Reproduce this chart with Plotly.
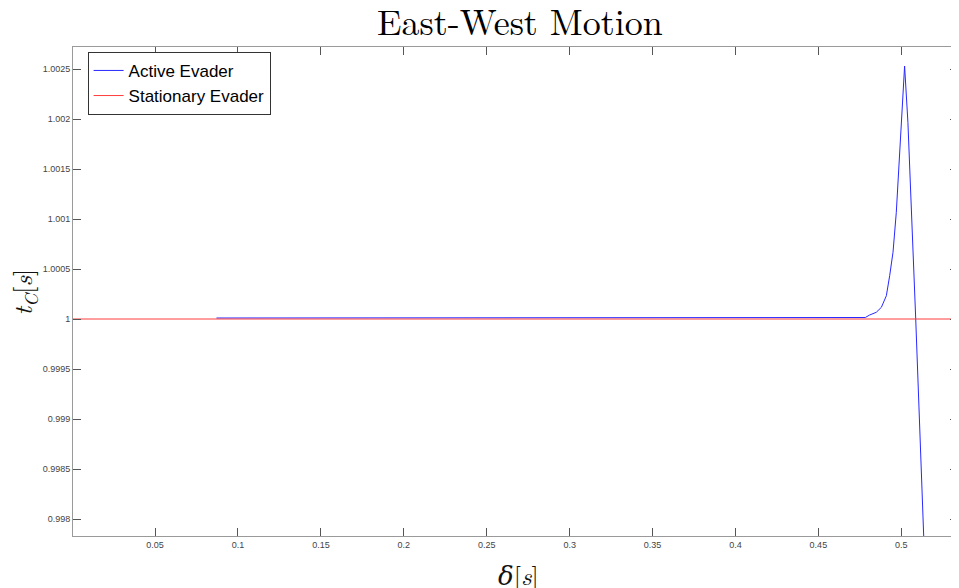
import plotly.graph_objects as go

# Active evader: delta [s] and capture time t_C [s]
active_delta = [0.087, 0.15, 0.25, 0.35, 0.45, 0.4783, 0.4809, 0.4849, 0.4880, 0.4910,
                0.4930, 0.4950, 0.4970, 0.4990, 0.5010, 0.5020, 0.5040, 0.5061,
                0.5087, 0.5135, 0.5150]
active_tc = [1.00001, 1.00001, 1.00001, 1.00001, 1.00001, 1.000015, 1.00004, 1.000067,
             1.000117, 1.000233, 1.000433, 1.000667, 1.001067, 1.001633, 1.0023,
             1.00253, 1.001967, 1.001133, 1.0, 0.99784, 0.9971]

# Stationary evader
stationary_delta = [0.0, 0.1, 0.2, 0.3, 0.4, 0.5, 0.535]
stationary_tc = [1.0, 1.0, 1.0, 1.0, 1.0, 1.0, 1.0]

x_ticks = [0.05, 0.1, 0.15, 0.2, 0.25, 0.3, 0.35, 0.4, 0.45, 0.5]
x_ticklabels = ["0.05", "0.1", "0.15", "0.2", "0.25", "0.3", "0.35", "0.4", "0.45", "0.5"]
y_ticks = [0.998, 0.9985, 0.999, 0.9995, 1.0, 1.0005, 1.001, 1.0015, 1.002, 1.0025]
y_ticklabels = ["0.998", "0.9985", "0.999", "0.9995", "1", "1.0005", "1.001", "1.0015", "1.002", "1.0025"]

fig = go.Figure()
fig.add_trace(go.Scatter(x=active_delta, y=active_tc, mode="lines", name="Active Evader",
                         line=dict(color="rgb(40,40,255)", width=1)))
fig.add_trace(go.Scatter(x=stationary_delta, y=stationary_tc, mode="lines", name="Stationary Evader",
                         line=dict(color="rgb(255,60,60)", width=1)))

axis_common = dict(showline=True, mirror="ticks", linecolor="#9a9a9a", linewidth=1,
                   ticks="inside", ticklen=8, tickcolor="#555", tickwidth=1,
                   showgrid=False, zeroline=False,
                   tickfont=dict(family="Arial, Liberation Sans, sans-serif", size=9, color="#444"))

serif = "Latin Modern Roman, DejaVu Serif, Liberation Serif, serif"

fig.update_layout(
    width=951, height=580,
    paper_bgcolor="white", plot_bgcolor="white",
    margin=dict(l=65, r=1, t=39, b=52),
    title=dict(text="East-West Motion", xref="paper", x=0.505, xanchor="center",
               yref="container", y=0.975, yanchor="middle",
               font=dict(family=serif, size=36, color="black")),
    xaxis=dict(range=[0.0005, 0.5342], tickvals=x_ticks, ticktext=x_ticklabels, **axis_common),
    yaxis=dict(range=[0.99783, 1.00272], tickvals=y_ticks, ticktext=y_ticklabels, **axis_common),
    legend=dict(x=0.0165, y=0.99, xanchor="left", yanchor="top",
                bgcolor="white", bordercolor="#333", borderwidth=1,
                font=dict(family="Arial, Liberation Sans, sans-serif", size=17, color="black"),
                itemwidth=30, tracegroupgap=0),
    showlegend=True,
    annotations=[
        dict(text="<i>t<sub>C</sub></i>[<i>s</i>]", xref="paper", yref="paper",
             x=-0.0565, y=0.5, xanchor="center", yanchor="middle", textangle=-90,
             showarrow=False, font=dict(family=serif, size=26, color="#111")),
        dict(text="<i>δ</i>[<i>s</i>]", xref="paper", yref="paper",
             x=0.503, y=-0.078, xanchor="center", yanchor="middle",
             showarrow=False, font=dict(family=serif, size=26, color="#111")),
    ],
)

fig.write_html("out.html")
